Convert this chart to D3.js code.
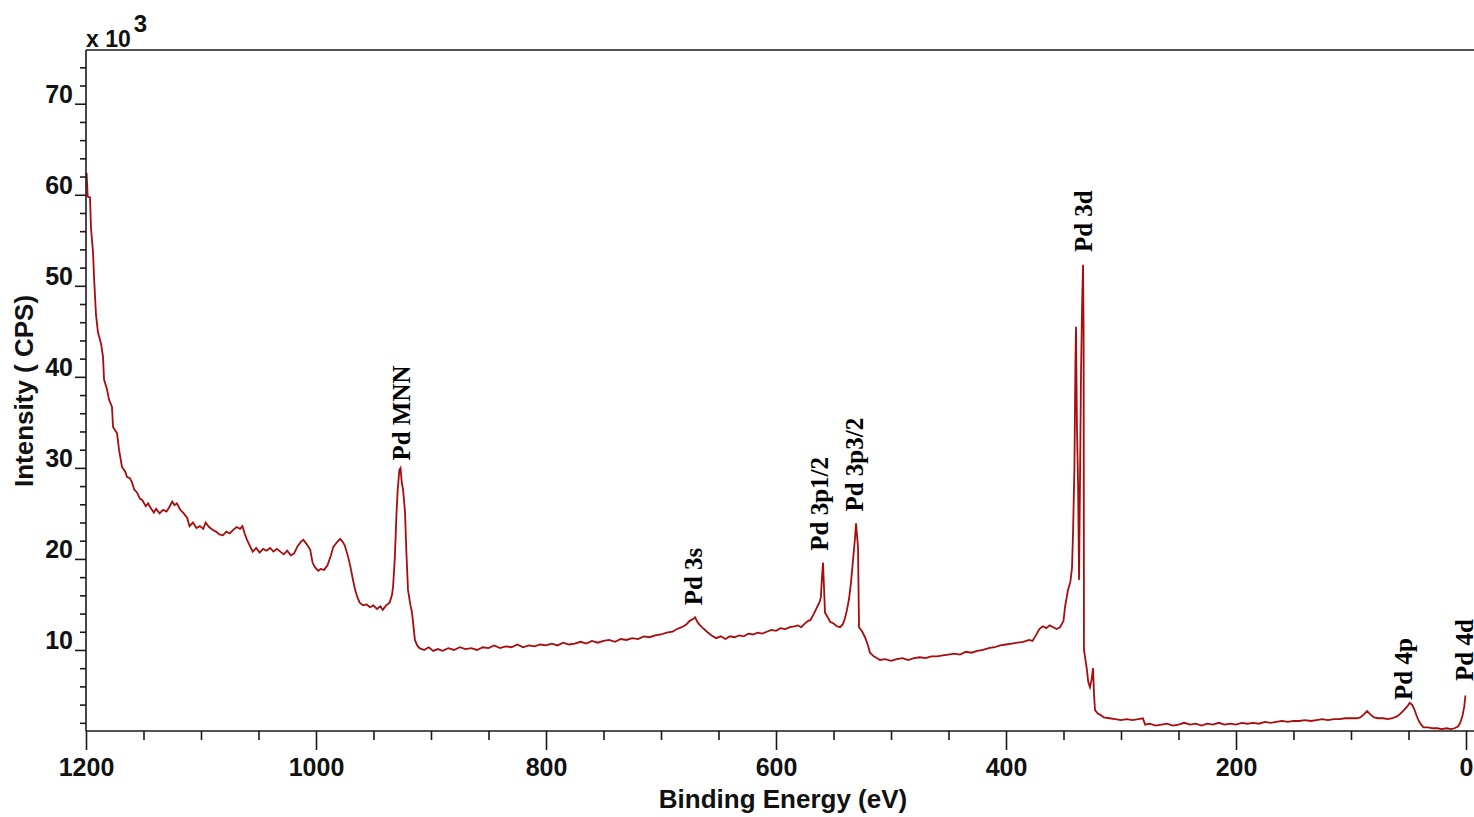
<!DOCTYPE html>
<html>
<head>
<meta charset="utf-8">
<script src="https://cdn.jsdelivr.net/npm/d3@7"></script>
<style>
  html, body { margin: 0; padding: 0; background: #fff; }
  svg { display: block; }
</style>
</head>
<body>
<svg id="chart" width="1474" height="817"></svg>
<script>
// Binding energy (eV) and intensity (x10^3 CPS)
const energy = [
1199.5,1198.5,1196.5,1195.7,1193.9,1193.0,1191.3,1189.6,1187.0,1185.2,1184.3,1181.7,1180.0,1177.4,1176.5,1173.0,1171.3,1168.7,1166,1164.3,1162,1160,1158,1155.7,1153,1151.3,1148,1146,1144.3,1141,1139,1136,1133,1130,1128,1125,1123,1121,1118,1115,1112,1110,1107,1104,1101,1098,1096,1093,1090,1087,1084,1081,1078,1075,1072,1069,1066,1064,1062,1060,1057,1055,1052,1049,1046,1043,1040,1037,1034,1031,1028,1025,1022,1019,1016,1013,1011,1008,1005,1003,1001,998,996,993,990,987,985,982,979,977,975,972,970,968,966,964,962,959,956,953,950,947,944,942,939,936,934,933,931.5,930,929,927.5,926.5,925.5,924.3,922.6,921.5,920,918,916.5,914,912,910,906,902,898,894,890,885,880,875,870,865,860,855,850,845,840,835,830,825,820,815,810,805,800,795,790,785,780,775,770,765,760,755,750,745,740,735,730,725,720,715,710,705,700,695,690,686,682,678,675,672,670.4,668,666,663.5,660,656,652,648,644,640,636,632,628,624,620,616,612,608,604,600,596,592,588,584,581,578,575,572,570,567,564.3,562,561,560,559.1,558.3,557.4,555,553,550,547,544.3,542,540,538.3,536.5,534.8,533,531.5,530.4,529.5,528.7,527.8,525,522.6,520,518.3,515,512,509.6,505,500,495,490,485,480,475,470,465,460,455,450,445,440,435,430,425,420,415,410,405,400,395,390,385,380,377,374,371,368,365,362,359,356,353,350,348.7,346.1,344,342.6,341.7,340.5,339.6,339.1,338.3,337.3,336.5,335.7,334.8,333.9,333.0,332.5,332.2,331,329.6,328.5,327.0,325.5,324.3,323.4,322.6,320,318.3,315,310,305,300,295,290,285,281,279,275,270,265,260,255,250,245,240,235,230,225,220,215,210,205,200,195,190,185,180,175,170,165,160,155,150,145,140,135,130,125,120,115,110,105,100,95,92,89,86,83,80,76,72,68,64,60,57,54,51,49,47,45,43,41,39,37,33,29,25,21,17,13,10,7,5,3,1.5,0.5
];
const intensity = [
62.4,59.8,59.7,56.4,53.7,50.9,46.8,44.9,43.7,42.2,39.7,38.6,37.5,36.7,34.5,33.8,32.0,30.1,29.6,29.0,28.9,28.4,27.6,27.3,26.6,26.5,25.8,26.1,25.7,25.1,25.5,25.0,25.4,25.2,25.6,26.3,25.9,26.1,25.4,25.0,24.5,23.6,24.0,23.4,23.6,23.3,24.0,23.5,23.2,23.0,22.7,22.6,23.0,22.8,23.2,23.5,23.3,23.6,22.8,22.1,21.3,20.8,21.2,20.7,21.1,20.9,21.2,20.8,21.1,20.8,20.5,20.9,20.4,20.6,21.4,21.9,22.1,21.6,21.0,19.6,19.1,18.7,18.9,18.8,19.3,20.4,21.3,21.8,22.2,21.9,21.5,20.2,19.1,17.8,16.6,15.8,15.2,14.9,15.0,14.7,14.9,14.5,14.8,14.4,14.9,15.2,16.0,16.9,20.0,25.0,27.5,29.8,30.0,28.5,27.6,25.2,21.0,16.6,15.0,14.1,11.1,10.5,10.2,10.0,10.3,9.9,10.1,9.9,10.2,10.0,10.3,10.1,10.2,10.0,10.3,10.2,10.5,10.2,10.4,10.3,10.6,10.3,10.5,10.4,10.6,10.5,10.7,10.5,10.8,10.6,10.7,10.9,10.7,11.0,10.8,11.0,11.1,10.9,11.2,11.1,11.3,11.2,11.5,11.4,11.6,11.7,11.9,12.0,12.3,12.5,12.8,13.2,13.4,13.6,13.0,12.7,12.4,12.0,11.6,11.3,11.5,11.2,11.5,11.4,11.6,11.5,11.8,11.7,11.9,11.8,12.0,12.2,12.1,12.4,12.3,12.5,12.6,12.7,12.5,12.9,13.2,13.3,14.0,14.7,15.3,15.8,18.0,19.6,17.0,14.1,13.6,13.1,12.9,12.6,12.5,12.8,13.5,14.4,15.6,17.4,19.9,22.0,23.9,22.5,21.3,12.5,12.0,11.4,10.5,9.7,9.3,9.1,8.9,9.0,8.8,9.0,9.1,8.9,9.1,9.2,9.1,9.3,9.3,9.4,9.5,9.6,9.5,9.8,9.7,9.9,10.0,10.2,10.3,10.5,10.6,10.7,10.8,10.9,11.1,11.0,11.6,12.3,12.6,12.4,12.7,12.5,12.3,12.5,13.2,14.7,16.6,17.5,19.0,22.9,30.0,42.0,45.5,34.5,28.0,17.7,27.8,40.0,47.4,52.3,45.0,10.0,9.0,7.8,6.5,5.9,6.8,8.0,5.0,3.4,3.0,2.9,2.6,2.5,2.4,2.3,2.4,2.3,2.4,2.5,1.8,1.9,1.7,1.8,1.9,1.7,1.8,2.0,1.8,1.9,1.7,1.9,1.8,2.0,1.8,1.9,1.8,2.0,1.9,2.0,1.9,2.1,2.0,2.1,2.2,2.1,2.2,2.2,2.3,2.2,2.3,2.4,2.3,2.4,2.4,2.5,2.5,2.5,2.6,2.9,3.3,2.9,2.6,2.5,2.5,2.4,2.5,2.7,3.0,3.4,3.8,4.2,4.0,3.5,2.8,2.2,1.8,1.5,1.5,1.4,1.4,1.3,1.4,1.3,1.4,1.6,2.0,2.8,3.8,5.0
];

const xMajorTicks = [1200, 1000, 800, 600, 400, 200, 0];
const xMinorTicks = d3.range(1150, -1, -50).filter(v => v % 200 !== 0);
const yMajorTicks = [10, 20, 30, 40, 50, 60, 70];
const yMinorTicks = d3.range(2, 75, 2).filter(v => v % 10 !== 0);

const peakLabels = ["Pd MNN", "Pd 3s", "Pd 3p1/2", "Pd 3p3/2", "Pd 3d", "Pd 4p", "Pd 4d"];
const peakLabelEnergy = [926, 672, 562.6, 532.2, 333, 54.8, 1.8];
const peakLabelLevel = [30.8, 14.9, 20.9, 25.2, 53.7, 4.5, 6.6];

(function draw() {
  const svg = d3.select("#chart");
  const W = 1474, H = 817;
  const pLeft = 86, pTop = 50, pBottom = 731;

  const x = d3.scaleLinear().domain([1200, 0]).range([86, 1466]);
  const y = d3.scaleLinear().domain([1.1, 75.9]).range([pBottom, pTop]);

  svg.append("rect").attr("width", W).attr("height", H).attr("fill", "#fff");

  svg.append("defs").append("clipPath").attr("id", "plotclip")
    .append("rect").attr("x", pLeft).attr("y", pTop).attr("width", W - pLeft).attr("height", pBottom - pTop);

  const data = energy.map((e, i) => [e, intensity[i]]);

  svg.append("path")
    .datum(data)
    .attr("clip-path", "url(#plotclip)")
    .attr("fill", "none")
    .attr("stroke", "#a80c0c")
    .attr("stroke-width", 1.8)
    .attr("stroke-linejoin", "miter")
    .attr("d", d3.line().x(d => x(d[0])).y(d => y(d[1])));

  const sans = "'Liberation Sans', Arial, sans-serif";
  const serif = "'Liberation Serif', 'Times New Roman', serif";
  const axisColor = "#1a1a1a";

  svg.append("line").attr("x1", pLeft).attr("x2", W).attr("y1", pTop).attr("y2", pTop)
    .attr("stroke", axisColor).attr("stroke-width", 1.6);
  svg.append("line").attr("x1", pLeft).attr("x2", pLeft).attr("y1", pTop).attr("y2", pBottom)
    .attr("stroke", axisColor).attr("stroke-width", 1.6);
  svg.append("line").attr("x1", pLeft).attr("x2", W).attr("y1", pBottom).attr("y2", pBottom)
    .attr("stroke", axisColor).attr("stroke-width", 1.6);

  const gxMinor = svg.append("g").attr("transform", `translate(0,${pBottom})`)
    .call(d3.axisBottom(x).tickValues(xMinorTicks).tickSize(9).tickFormat(""));
  const gx = svg.append("g").attr("transform", `translate(0,${pBottom})`)
    .call(d3.axisBottom(x).tickValues(xMajorTicks).tickSize(19).tickPadding(8).tickFormat(d3.format("d")));

  const gyMinor = svg.append("g").attr("transform", `translate(${pLeft},0)`)
    .call(d3.axisLeft(y).tickValues(yMinorTicks).tickSize(6).tickFormat(""));
  const gy = svg.append("g").attr("transform", `translate(${pLeft},0)`)
    .call(d3.axisLeft(y).tickValues(yMajorTicks).tickSize(11).tickPadding(2).tickFormat(d3.format("d")));

  [gxMinor, gx, gyMinor, gy].forEach(g => {
    g.select(".domain").remove();
    g.selectAll(".tick line").attr("stroke", axisColor).attr("stroke-width", 1.6);
    g.selectAll(".tick text").attr("fill", "#111").attr("font-family", sans)
      .attr("font-size", 25).attr("font-weight", "bold");
  });
  gy.selectAll(".tick text").attr("dy", "-0.05em");

  svg.append("text").attr("x", 783).attr("y", 808).attr("text-anchor", "middle")
    .attr("font-family", sans).attr("font-size", 26).attr("font-weight", "bold").attr("fill", "#111")
    .text("Binding Energy (eV)");
  svg.append("text").attr("transform", "translate(33,391) rotate(-90)").attr("text-anchor", "middle")
    .attr("font-family", sans).attr("font-size", 26).attr("font-weight", "bold").attr("fill", "#111")
    .text("Intensity ( CPS)");

  const mult = svg.append("text").attr("x", 86).attr("y", 47)
    .attr("font-family", sans).attr("font-size", 23).attr("font-weight", "bold").attr("fill", "#111");
  mult.append("tspan").text("x 10");
  mult.append("tspan").attr("font-size", 24).attr("dy", -15).attr("dx", 3).text("3");

  peakLabels.forEach((t, i) => {
    svg.append("text")
      .attr("transform", `translate(${x(peakLabelEnergy[i]) + 9},${y(peakLabelLevel[i])}) rotate(-90)`)
      .attr("font-family", serif).attr("font-size", 25).attr("font-weight", "bold").attr("fill", "#000")
      .text(t);
  });
})();
</script>
</body>
</html>
